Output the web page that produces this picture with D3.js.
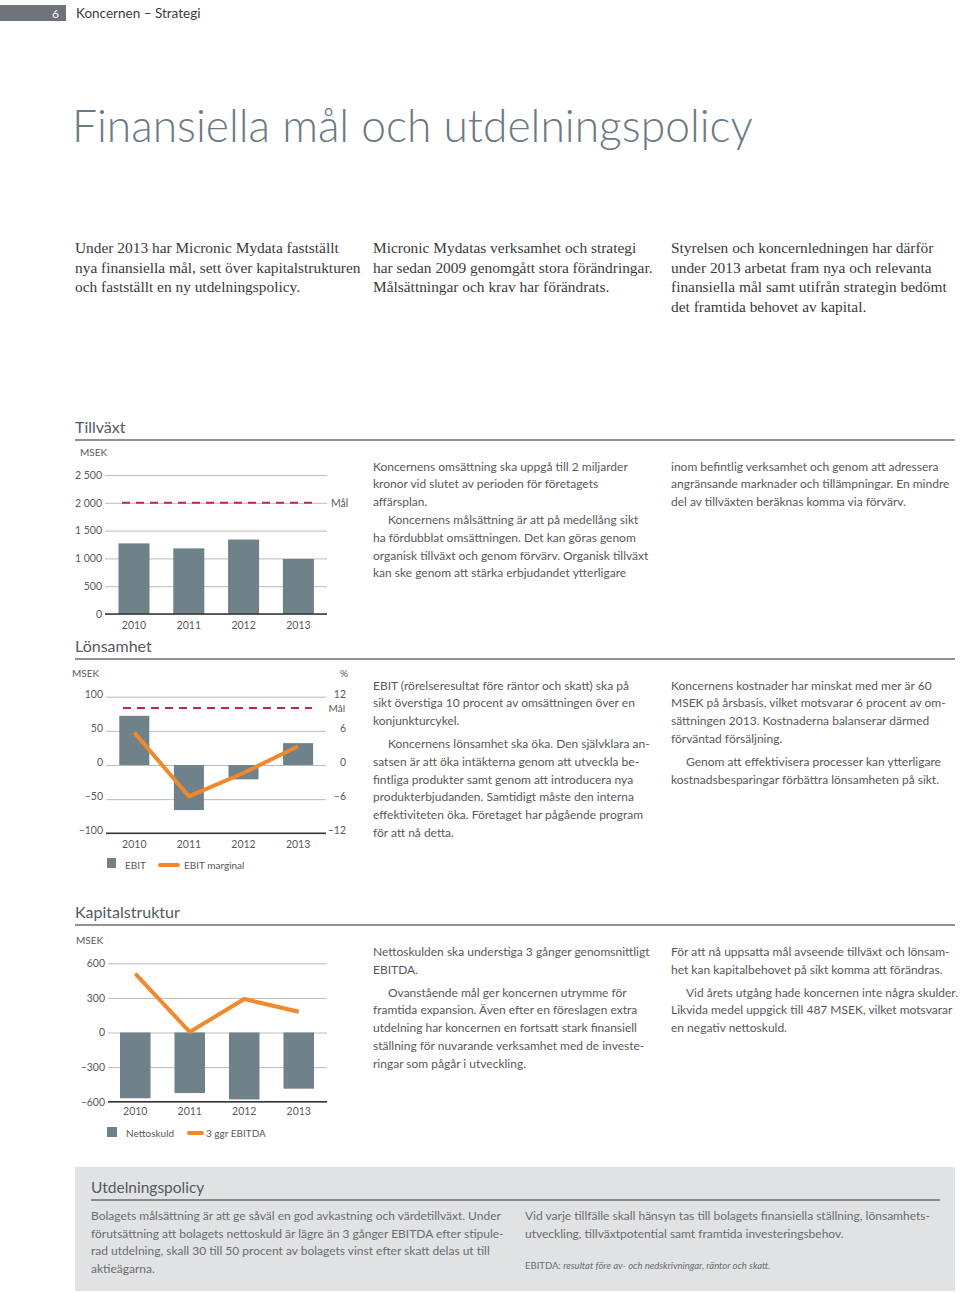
<!DOCTYPE html>
<html><head><meta charset="utf-8">
<script src="https://cdn.jsdelivr.net/npm/d3@7/dist/d3.min.js"></script>
<style>
body{margin:0;background:#fff;}
svg{display:block;font-family:Lato,"Open Sans",sans-serif;}
</style></head>
<body>
<svg id="c" width="960" height="1293"></svg>
<script>
// ---------- DATA ----------
const years = ["2010","2011","2012","2013"];
const revenue = [1270, 1180, 1340, 990];          // MSEK
const revenueTarget = 2000;
const revenueTicks = [0,500,1000,1500,2000,2500];
const ebit = [72, -66, -21, 32];                   // MSEK
const ebitMargin = [5.7, -5.5, -1.4, 3.3];         // %
const marginTarget = 10;
const ebitTicks = [-100,-50,0,50,100];
const marginTicks = [-12,-6,0,6,12];
const netDebt = [-570, -525, -580, -487];          // MSEK
const ebitda3 = [510, 5, 290, 180];                // MSEK
const capTicks = [-600,-300,0,300,600];

const introCols = [
 ["Under 2013 har Micronic Mydata fastställt","nya finansiella mål, sett över kapitalstrukturen","och fastställt en ny utdelningspolicy."],
 ["Micronic Mydatas verksamhet och strategi","har sedan 2009 genomgått stora förändringar.","Målsättningar och krav har förändrats."],
 ["Styrelsen och koncernledningen har därför","under 2013 arbetat fram nya och relevanta","finansiella mål samt utifrån strategin bedömt","det framtida behovet av kapital."]
];
const growthText1 = [
 ["Koncernens omsättning ska uppgå till 2 miljarder","kronor vid slutet av perioden för företagets","affärsplan."],
 ["Koncernens målsättning är att på medellång sikt","ha fördubblat omsättningen. Det kan göras genom","organisk tillväxt och genom förvärv. Organisk tillväxt","kan ske  genom att stärka erbjudandet ytterligare"]
];
const growthText2 = [
 ["inom befintlig verksamhet och genom att adressera","angränsande marknader och tillämpningar. En mindre","del av tillväxten beräknas komma via förvärv."]
];
const profitText1 = [
 ["EBIT (rörelseresultat före räntor och skatt) ska på","sikt överstiga 10 procent av omsättningen över en","konjunkturcykel."],
 ["Koncernens lönsamhet ska öka. Den självklara an-","satsen är att öka intäkterna genom att utveckla be-","fintliga produkter samt genom att introducera nya","produkterbjudanden. Samtidigt måste den interna","effektiviteten öka. Företaget har pågående program","för att nå detta."]
];
const profitText2 = [
 ["Koncernens kostnader har minskat med mer är 60","MSEK på årsbasis, vilket motsvarar 6 procent av om-","sättningen 2013. Kostnaderna balanserar därmed","förväntad försäljning."],
 ["Genom att effektivisera processer kan ytterligare","kostnadsbesparingar förbättra lönsamheten på sikt."]
];
const capText1 = [
 ["Nettoskulden ska understiga 3 gånger genomsnittligt","EBITDA."],
 ["Ovanstående mål ger koncernen utrymme för","framtida expansion. Även efter en föreslagen extra","utdelning har koncernen en fortsatt stark finansiell","ställning för nuvarande verksamhet med de investe-","ringar som pågår i utveckling."]
];
const capText2 = [
 ["För att nå uppsatta mål avseende tillväxt och lönsam-","het kan kapitalbehovet på sikt komma att förändras."],
 ["Vid årets utgång hade koncernen inte några skulder.","Likvida medel uppgick till 487 MSEK, vilket motsvarar","en negativ nettoskuld."]
];
const divText1 = ["Bolagets målsättning är att ge såväl en god avkastning och värdetillväxt. Under","förutsättning att bolagets nettoskuld är lägre än 3 gånger EBITDA efter stipule-","rad utdelning, skall 30 till 50 procent av bolagets vinst efter skatt delas ut till","aktieägarna."];
const divText2 = ["Vid varje tillfälle skall hänsyn tas till bolagets finansiella ställning, lönsamhets-","utveckling, tillväxtpotential samt framtida investeringsbehov."];

// ---------- STYLE ----------
const BAR = "#6f8189", ORANGE = "#f0892c", RED = "#c8234e", TXT = "#58595b", GRID = "#b9bcbe";
const svg = d3.select("#c");
const fmt = v => (v < 0 ? "–" : "") + d3.format(",")(Math.abs(v)).replace(/,/g, " ");

// header
svg.append("rect").attr("x",0).attr("y",5).attr("width",66).attr("height",16).attr("fill","#6d7378");
svg.append("text").attr("x",59).attr("y",17.5).attr("text-anchor","end").attr("fill","#fff").attr("font-size",12).text("6");
svg.append("text").attr("x",76).attr("y",18).attr("fill","#3c3c3c").attr("font-size",13.5).text("Koncernen – Strategi");

// title
svg.append("text").attr("x",72).attr("y",142).attr("fill","#6e7a82").attr("font-size",44.4)
  .attr("font-weight",300).text("Finansiella mål och utdelningspolicy");

// intro
const introX = [75, 373, 671];
introCols.forEach((lines,i)=>{
  lines.forEach((l,j)=>{
    svg.append("text").attr("x",introX[i]).attr("y",253 + j*19.5)
      .style("font-family","'Liberation Serif',serif").attr("font-size",15.4).attr("fill","#3a3a3a").text(l);
  });
});

function paragraphs(x, y0, paras, lh, gap){
  let y = y0;
  paras.forEach((p,pi)=>{
    p.forEach((l,li)=>{
      svg.append("text").attr("x", x + (pi>0 && li===0 ? 15 : 0)).attr("y", y)
        .attr("font-size",12.0).attr("fill",TXT).text(l);
      y += lh;
    });
    y += gap;
  });
}
function sectionTitle(t, y, x1, x2, x0){
  svg.append("text").attr("x",x0||75).attr("y",y).attr("font-size",16).attr("fill","#555a5e").text(t);
  svg.append("line").attr("x1",x0||75).attr("x2",x2).attr("y1",y+7).attr("y2",y+7).attr("stroke","#6b6e70").attr("stroke-width",1.5);
}
function grid(g, scale, ticks, x0, x1, format){
  const ax = d3.axisLeft(scale).tickValues(ticks).tickSize(-(x1-x0)).tickPadding(3).tickFormat(format);
  const a = g.append("g").attr("transform",`translate(${x0},0)`).call(ax);
  a.select(".domain").remove();
  a.selectAll(".tick line").attr("stroke",GRID).attr("stroke-width",1);
  a.selectAll(".tick text").attr("fill",TXT).attr("font-size",10.5).style("font-family","Lato,sans-serif");
  return a;
}
function yearAxis(g, x, y){
  const a = g.append("g").attr("transform",`translate(0,${y})`).call(d3.axisBottom(x).tickSize(0).tickPadding(0));
  a.select(".domain").remove();
  a.selectAll(".tick text").attr("fill",TXT).attr("font-size",10.5).style("font-family","Lato,sans-serif").attr("dy","0.35em");
}

// ---------- TILLVÄXT ----------
sectionTitle("Tillväxt", 433, 75, 955);
{
  const g = svg.append("g");
  const y = d3.scaleLinear().domain([0,2500]).range([614,475]);
  const x = d3.scaleBand().domain(years).range([106.6,325.8]).paddingInner(0.434).paddingOuter(0.217);
  g.append("text").attr("x",80).attr("y",456).attr("font-size",10).attr("fill",TXT).text("MSEK");
  grid(g, y, revenueTicks, 105, 327, fmt);
  g.selectAll("rect.b").data(revenue).join("rect").attr("x",(d,i)=>x(years[i])).attr("width",x.bandwidth())
    .attr("y",d=>y(d)).attr("height",d=>y(0)-y(d)).attr("fill",BAR);
  g.append("line").attr("x1",105).attr("x2",327).attr("y1",y(0)).attr("y2",y(0)).attr("stroke","#333").attr("stroke-width",1.6);
  g.append("line").attr("x1",122).attr("x2",318).attr("y1",y(revenueTarget)).attr("y2",y(revenueTarget))
    .attr("stroke",RED).attr("stroke-width",2).attr("stroke-dasharray","8,6");
  g.append("text").attr("x",331).attr("y",y(revenueTarget)+4).attr("font-size",10.5).attr("fill",TXT).text("Mål");
  yearAxis(g, x, 625);
}
paragraphs(373, 470.5, growthText1, 17.8, 0);
paragraphs(671, 470.5, growthText2, 17.8, 0);

// ---------- LÖNSAMHET ----------
sectionTitle("Lönsamhet", 652, 75, 955);
{
  const g = svg.append("g");
  const y = d3.scaleLinear().domain([-100,100]).range([833.3,696.7]);
  const y2 = d3.scaleLinear().domain([-12,12]).range([833.3,696.7]);
  const x = d3.scaleBand().domain(years).range([107,325.4]).paddingInner(0.45).paddingOuter(0.225);
  g.append("text").attr("x",72).attr("y",677).attr("font-size",10).attr("fill",TXT).text("MSEK");
  g.append("text").attr("x",348).attr("y",677).attr("text-anchor","end").attr("font-size",10).attr("fill",TXT).text("%");
  const a = grid(g, y, ebitTicks, 106, 326, fmt);
  a.selectAll(".tick text").attr("dy","0.05em");
  const r = g.append("g").attr("transform","translate(336,0)").call(d3.axisRight(y2).tickValues(marginTicks).tickSize(0).tickPadding(0).tickFormat(fmt));
  r.select(".domain").remove();
  r.selectAll(".tick text").attr("text-anchor","end").attr("x",10).attr("dy","0.05em").attr("fill",TXT).attr("font-size",10.5).style("font-family","Lato,sans-serif");
  g.selectAll("rect.b").data(ebit).join("rect").attr("x",(d,i)=>x(years[i])).attr("width",x.bandwidth())
    .attr("y",d=>y(Math.max(0,d))).attr("height",d=>Math.abs(y(d)-y(0))).attr("fill",BAR);
  g.append("line").attr("x1",106).attr("x2",326).attr("y1",y(-100)).attr("y2",y(-100)).attr("stroke","#333").attr("stroke-width",1.6);
  g.append("line").attr("x1",123).attr("x2",312).attr("y1",y2(marginTarget)).attr("y2",y2(marginTarget))
    .attr("stroke",RED).attr("stroke-width",2).attr("stroke-dasharray","8,6");
  g.append("text").attr("x",345).attr("y",y2(marginTarget)+4).attr("text-anchor","end").attr("font-size",10).attr("fill",TXT).text("Mål");
  const line = d3.line().x((d,i)=>x(years[i])+x.bandwidth()/2).y(d=>y2(d));
  g.append("path").datum(ebitMargin).attr("d",line).attr("fill","none").attr("stroke",ORANGE).attr("stroke-width",4).attr("stroke-linejoin","round");
  yearAxis(g, x, 844);
  g.append("rect").attr("x",107).attr("y",858).attr("width",9).attr("height",10).attr("fill",BAR);
  g.append("text").attr("x",125).attr("y",869).attr("font-size",10).attr("fill",TXT).text("EBIT");
  g.append("line").attr("x1",160).attr("x2",178).attr("y1",865).attr("y2",865).attr("stroke",ORANGE).attr("stroke-width",4).attr("stroke-linecap","round");
  g.append("text").attr("x",184).attr("y",869).attr("font-size",10).attr("fill",TXT).text("EBIT marginal");
}
paragraphs(373, 689.5, profitText1, 17.8, 5);
paragraphs(671, 689.5, profitText2, 17.8, 5);

// ---------- KAPITALSTRUKTUR ----------
sectionTitle("Kapitalstruktur", 918, 75, 955);
{
  const g = svg.append("g");
  const y = d3.scaleLinear().domain([-600,600]).range([1101.7,963.3]);
  const x = d3.scaleBand().domain(years).range([108,326]).paddingInner(0.44).paddingOuter(0.22);
  g.append("text").attr("x",76).attr("y",944).attr("font-size",10).attr("fill",TXT).text("MSEK");
  grid(g, y, capTicks, 108, 327, fmt);
  g.selectAll("rect.b").data(netDebt).join("rect").attr("x",(d,i)=>x(years[i])).attr("width",x.bandwidth())
    .attr("y",d=>y(Math.max(0,d))).attr("height",d=>Math.abs(y(d)-y(0))).attr("fill",BAR);
  g.append("line").attr("x1",108).attr("x2",327).attr("y1",y(-600)).attr("y2",y(-600)).attr("stroke","#333").attr("stroke-width",1.6);
  const line = d3.line().x((d,i)=>x(years[i])+x.bandwidth()/2).y(d=>y(d));
  g.append("path").datum(ebitda3).attr("d",line).attr("fill","none").attr("stroke",ORANGE).attr("stroke-width",4).attr("stroke-linejoin","round");
  yearAxis(g, x, 1111.7);
  g.append("rect").attr("x",107).attr("y",1127).attr("width",10).attr("height",10).attr("fill",BAR);
  g.append("text").attr("x",126).attr("y",1137).attr("font-size",10).attr("fill",TXT).text("Nettoskuld");
  g.append("line").attr("x1",189).attr("x2",202).attr("y1",1133).attr("y2",1133).attr("stroke",ORANGE).attr("stroke-width",4).attr("stroke-linecap","round");
  g.append("text").attr("x",206).attr("y",1137).attr("font-size",10).attr("fill",TXT).text("3 ggr EBITDA");
}
paragraphs(373, 956, capText1, 17.8, 5);
paragraphs(671, 956, capText2, 17.8, 5);

// ---------- UTDELNINGSPOLICY ----------
svg.append("rect").attr("x",75).attr("y",1167).attr("width",880).attr("height",124).attr("fill","#e0e2e4");
svg.append("text").attr("x",91).attr("y",1193).attr("font-size",15.5).attr("fill","#555a5e").text("Utdelningspolicy");
svg.append("line").attr("x1",91).attr("x2",940).attr("y1",1200).attr("y2",1200).attr("stroke","#6b6e70").attr("stroke-width",1.5);
divText1.forEach((l,i)=>svg.append("text").attr("x",91).attr("y",1220+i*17.7).attr("font-size",12).attr("fill","#6a6d70").text(l));
divText2.forEach((l,i)=>svg.append("text").attr("x",525).attr("y",1220+i*17.7).attr("font-size",12).attr("fill","#6a6d70").text(l));
const fn = svg.append("text").attr("x",525).attr("y",1269).attr("font-size",9.5).attr("fill","#6a6d70");
fn.append("tspan").text("EBITDA: ");
fn.append("tspan").attr("font-style","italic").text("resultat före av- och nedskrivningar, räntor och skatt.");
</script>
</body></html>
